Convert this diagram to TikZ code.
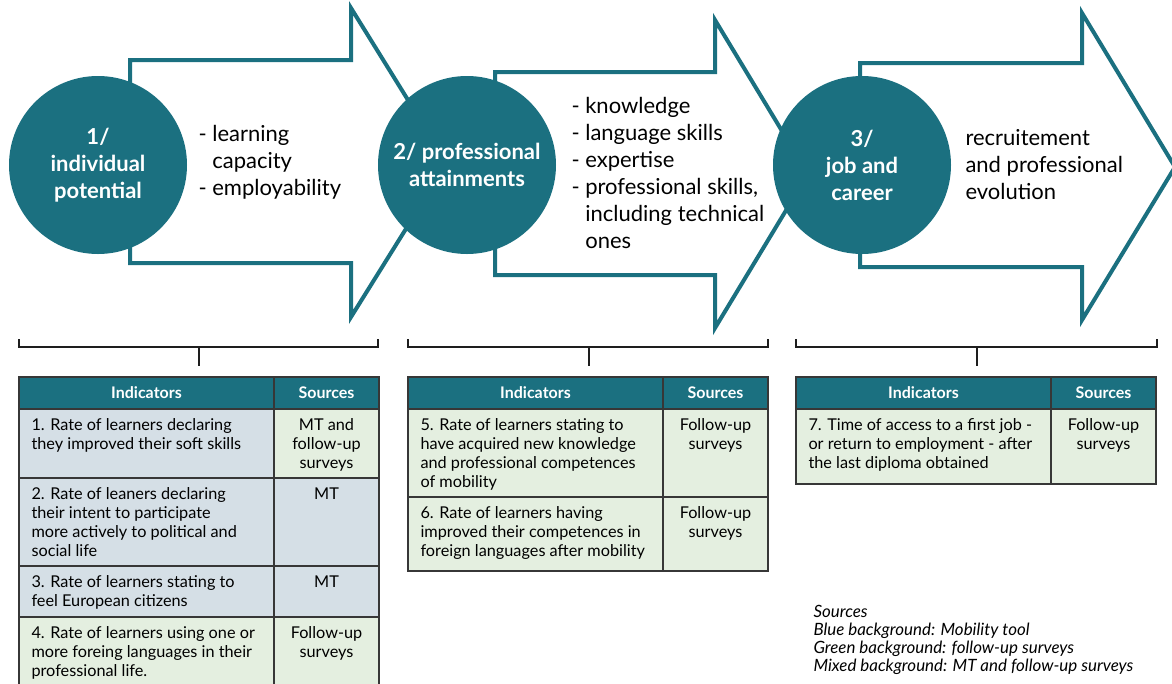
\documentclass[tikz,border=0pt]{standalone}
\usepackage{fontspec}
\setmainfont{Lato}

\definecolor{stageteal}{RGB}{27,112,128}
\definecolor{mtblue}{RGB}{213,223,230}
\definecolor{fugreen}{RGB}{228,239,224}
\definecolor{gridgrey}{RGB}{55,55,55}
\definecolor{bracketgrey}{RGB}{30,30,30}

\tikzset{every picture/.style={line width=0.75pt}}
\tikzset{
  stage arrow/.style={draw=stageteal, fill=white, line width=3pt},
  stage disc/.style={circle, fill=stageteal, minimum size=133.5pt, inner sep=0pt, text=white, align=center, font=\fontsize{16.5}{20.25}\selectfont\bfseries},
  stage notes/.style={anchor=north west, align=left, inner sep=0.75pt, font=\fontsize{16.5}{20.25}\selectfont},
  bracket/.style={draw=bracketgrey, line width=1.5pt},
  head cell/.style={fill=stageteal, draw=gridgrey, line width=1.1pt},
  mt cell/.style={fill=mtblue, draw=gridgrey, line width=1.1pt},
  fu cell/.style={fill=fugreen, draw=gridgrey, line width=1.1pt},
  head text/.style={inner sep=0.75pt, text=white, font=\fontsize{12}{14}\selectfont\bfseries},
  ind text/.style={anchor=north west, align=left, inner sep=0.75pt, font=\fontsize{12.2}{14.25}\selectfont},
  src text/.style={anchor=north, align=center, inner sep=0.75pt, font=\fontsize{12.2}{14.25}\selectfont},
  legend text/.style={anchor=north west, align=left, inner sep=0.75pt, font=\fontsize{12.7}{13.5}\selectfont\itshape}
}

\begin{document}
\begin{tikzpicture}[x=0.75pt,y=0.75pt,yscale=-1,xscale=1]
\useasboundingbox (0,0) rectangle (1172,683);

%Shape: Arrow [id:stage1]
\draw [stage arrow] (130,60) -- (351,60) -- (351,8) -- (447,163) -- (351,317) -- (351,263) -- (130,263) -- cycle ;
%Shape: Arrow [id:stage2]
\draw [stage arrow] (495,72) -- (715,72) -- (715,20) -- (808,174) -- (715,328) -- (715,275) -- (495,275) -- cycle ;
%Shape: Arrow [id:stage3]
\draw [stage arrow] (860,63) -- (1082,63) -- (1082,13) -- (1175,167) -- (1082,320) -- (1082,267) -- (860,267) -- cycle ;

%Shape: Circle [id:disc1]
\node (disc1) [stage disc] at (98,165) {1/\\individual\\potential};
%Shape: Circle [id:disc2]
\node (disc2) [stage disc] at (467,165) {2/ professional\\attainments};
%Shape: Circle [id:disc3]
\node (disc3) [stage disc] at (862,165) {3/\\job and\\career};

% Text Node
\node (notes1) [stage notes] at (197,124) {- learning\\\hphantom{- }capacity\\- employability};
% Text Node
\node (notes2) [stage notes] at (570,96) {- knowledge\\- language skills\\- expertise\\- professional skills,\\\hphantom{- }including technical\\\hphantom{- }ones};
% Text Node
\node (notes3) [stage notes] at (964,128) {recruitement\\and professional\\evolution};

%Straight Lines [id:bracket1]
\draw [bracket] (19,339) -- (19,347) -- (378,347) -- (378,339) (199,347) -- (199,366) ;
%Straight Lines [id:bracket2]
\draw [bracket] (408,339) -- (408,347) -- (768,347) -- (768,339) (589,347) -- (589,366) ;
%Straight Lines [id:bracket3]
\draw [bracket] (796,339) -- (796,347) -- (1157,347) -- (1157,339) (977,347) -- (977,366) ;

%Shape: Table 1
\draw [head cell] (19,377) rectangle (274,409) ;
\draw [head cell] (274,377) rectangle (379,409) ;
\draw [mt cell] (19,409) rectangle (274,478) ;
\draw [fu cell] (274,409) rectangle (379,478) ;
\draw [mt cell] (19,478) rectangle (274,566) ;
\draw [mt cell] (274,478) rectangle (379,566) ;
\draw [mt cell] (19,566) rectangle (274,617) ;
\draw [mt cell] (274,566) rectangle (379,617) ;
\draw [fu cell] (19,617) rectangle (274,687) ;
\draw [fu cell] (274,617) rectangle (379,687) ;

% Text Node
\node (ihead1) [head text] at (146.5,393) {Indicators};
\node (shead1) [head text] at (326.5,393) {Sources};
\node (ind1) [ind text] at (30,417) {1. Rate of learners declaring\\they improved their soft skills};
\node (src1) [src text] at (326.5,417) {MT and\\follow-up\\surveys};
\node (ind2) [ind text] at (30,486) {2. Rate of leaners declaring\\their intent to participate\\more actively to political and\\social life};
\node (src2) [src text] at (326.5,486) {MT};
\node (ind3) [ind text] at (30,574) {3. Rate of learners stating to\\feel European citizens};
\node (src3) [src text] at (326.5,574) {MT};
\node (ind4) [ind text] at (30,625) {4. Rate of learners using one or\\more foreing languages in their\\professional life.};
\node (src4) [src text] at (326.5,625) {Follow-up\\surveys};

%Shape: Table 2
\draw [head cell] (408,377) rectangle (663,409) ;
\draw [head cell] (663,377) rectangle (768,409) ;
\draw [fu cell] (408,409) rectangle (663,497) ;
\draw [fu cell] (663,409) rectangle (768,497) ;
\draw [fu cell] (408,497) rectangle (663,571) ;
\draw [fu cell] (663,497) rectangle (768,571) ;

% Text Node
\node (ihead2) [head text] at (535.5,393) {Indicators};
\node (shead2) [head text] at (715.5,393) {Sources};
\node (ind5) [ind text] at (419,417) {5. Rate of learners stating to\\have acquired new knowledge\\and professional competences\\of mobility};
\node (src5) [src text] at (715.5,417) {Follow-up\\surveys};
\node (ind6) [ind text] at (419,505) {6. Rate of learners having\\improved their competences in\\foreign languages after mobility};
\node (src6) [src text] at (715.5,505) {Follow-up\\surveys};

%Shape: Table 3
\draw [head cell] (796,377) rectangle (1051,409) ;
\draw [head cell] (1051,377) rectangle (1156,409) ;
\draw [fu cell] (796,409) rectangle (1051,484) ;
\draw [fu cell] (1051,409) rectangle (1156,484) ;

% Text Node
\node (ihead3) [head text] at (923.5,393) {Indicators};
\node (shead3) [head text] at (1103.5,393) {Sources};
\node (ind7) [ind text] at (807,417) {7. Time of access to a first job -\\or return to employment - after\\the last diploma obtained};
\node (src7) [src text] at (1103.5,417) {Follow-up\\surveys};

% Text Node
\node (legend) [legend text] at (812,604) {Sources\\Blue background: Mobility tool\\Green background: follow-up surveys\\Mixed background: MT and follow-up surveys};

\end{tikzpicture}
\end{document}
